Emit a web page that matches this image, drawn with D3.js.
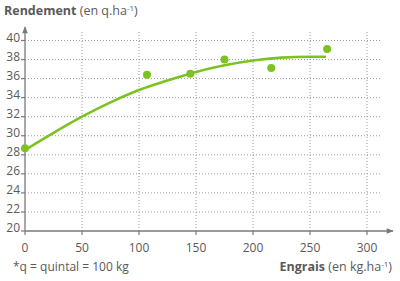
<!DOCTYPE html>
<html>
<head>
<meta charset="utf-8">
<script src="https://cdn.jsdelivr.net/npm/d3@7"></script>
<style>
  body { margin: 0; background: #fff; }
  svg { font-family: "Open Sans", sans-serif; }
  .grid line { stroke: #9a9a9a; stroke-width: 1; stroke-dasharray: 1,2; }
  .lbl { fill: #5a5a5a; font-size: 12px; }
</style>
</head>
<body>
<svg id="chart" width="400" height="281"></svg>
<script>
// measured points (engrais kg/ha, rendement q/ha)
const doseX = [0, 107, 145, 175, 216, 265]
const yieldY = [28.7, 36.4, 36.5, 38.0, 37.1, 39.1]

// trend curve
const curveX = [0, 25, 50, 75, 100, 125, 150, 175, 200, 225, 250, 264]
const curveY = [28.5, 30.3, 32.0, 33.5, 34.8, 35.8, 36.7, 37.4, 37.9, 38.2, 38.3, 38.3]

const xTicks = [0, 50, 100, 150, 200, 250, 300]
const yTicks = [20, 22, 24, 26, 28, 30, 32, 34, 36, 38, 40]

const green = '#7cc321',
    axisCol = '#7a7a7a'

const svg = d3.select('#chart')

const x = d3.scaleLinear().domain([0, 300]).range([25, 367])
const y = d3.scaleLinear().domain([20, 40]).range([231, 40.5])

// grid
const grid = svg.append('g').attr('class', 'grid')
grid.selectAll('line.h')
    .data(yTicks.slice(1))
    .enter().append('line')
    .attr('x1', x(0)).attr('x2', 382)
    .attr('y1', d => y(d)).attr('y2', d => y(d))
grid.selectAll('line.v')
    .data(xTicks.slice(1))
    .enter().append('line')
    .attr('x1', d => x(d)).attr('x2', d => x(d))
    .attr('y1', y(20)).attr('y2', 32)

// axes
svg.append('defs').append('marker')
    .attr('id', 'arrow')
    .attr('viewBox', '0 0 10 10')
    .attr('refX', 9).attr('refY', 5)
    .attr('markerWidth', 8).attr('markerHeight', 7)
    .attr('markerUnits', 'userSpaceOnUse')
    .attr('orient', 'auto')
    .append('path')
    .attr('d', 'M0,1 L10,5 L0,9 Z')
    .attr('fill', axisCol)

svg.append('line')
    .attr('x1', x(0)).attr('x2', 393)
    .attr('y1', y(20)).attr('y2', y(20))
    .attr('stroke', axisCol).attr('stroke-width', 1.3)
    .attr('marker-end', 'url(#arrow)')
svg.append('line')
    .attr('x1', x(0)).attr('x2', x(0))
    .attr('y1', y(20)).attr('y2', 27)
    .attr('stroke', axisCol).attr('stroke-width', 1.3)
    .attr('marker-end', 'url(#arrow)')

// y ticks
svg.selectAll('line.yt')
    .data(yTicks)
    .enter().append('line')
    .attr('x1', x(0) - 4).attr('x2', x(0))
    .attr('y1', d => y(d)).attr('y2', d => y(d))
    .attr('stroke', axisCol).attr('stroke-width', 1.2)
svg.selectAll('text.yl')
    .data(yTicks)
    .enter().append('text')
    .attr('class', 'lbl')
    .attr('x', 20)
    .attr('y', d => y(d) + 1)
    .attr('text-anchor', 'end')
    .text(d => d)

// x ticks
svg.selectAll('line.xt')
    .data(xTicks)
    .enter().append('line')
    .attr('x1', d => x(d)).attr('x2', d => x(d))
    .attr('y1', y(20)).attr('y2', y(20) + 4)
    .attr('stroke', axisCol).attr('stroke-width', 1.2)
svg.selectAll('text.xl')
    .data(xTicks)
    .enter().append('text')
    .attr('class', 'lbl')
    .attr('x', d => x(d))
    .attr('y', 252)
    .attr('text-anchor', 'middle')
    .text(d => d)

// trend curve
const line = d3.line()
    .x(d => x(d[0]))
    .y(d => y(d[1]))
    .curve(d3.curveMonotoneX)
svg.append('path')
    .datum(curveX.map((v, i) => [v, curveY[i]]))
    .attr('d', line)
    .attr('fill', 'none')
    .attr('stroke', green)
    .attr('stroke-width', 2.6)

// points
svg.selectAll('circle.pt')
    .data(doseX)
    .enter().append('circle')
    .attr('cx', d => x(d))
    .attr('cy', (d, i) => y(yieldY[i]))
    .attr('r', 4)
    .attr('fill', green)

// titles
const t1 = svg.append('text').attr('class', 'lbl')
    .attr('x', 4).attr('y', 15).style('font-size', '12.5px')
t1.append('tspan').attr('font-weight', 'bold').text('Rendement')
t1.append('tspan').text(' (en q.ha')
t1.append('tspan').attr('dy', -4).style('font-size', '8px').text('-1')
t1.append('tspan').attr('dy', 4).text(')')

const t2 = svg.append('text').attr('class', 'lbl')
    .attr('x', 392).attr('y', 271).attr('text-anchor', 'end').style('font-size', '12.5px')
t2.append('tspan').attr('font-weight', 'bold').text('Engrais')
t2.append('tspan').text(' (en kg.ha')
t2.append('tspan').attr('dy', -4).style('font-size', '8px').text('-1')
t2.append('tspan').attr('dy', 4).text(')')

svg.append('text').attr('class', 'lbl')
    .attr('x', 13).attr('y', 271)
    .text('*q = quintal = 100 kg')
</script>
</body>
</html>
